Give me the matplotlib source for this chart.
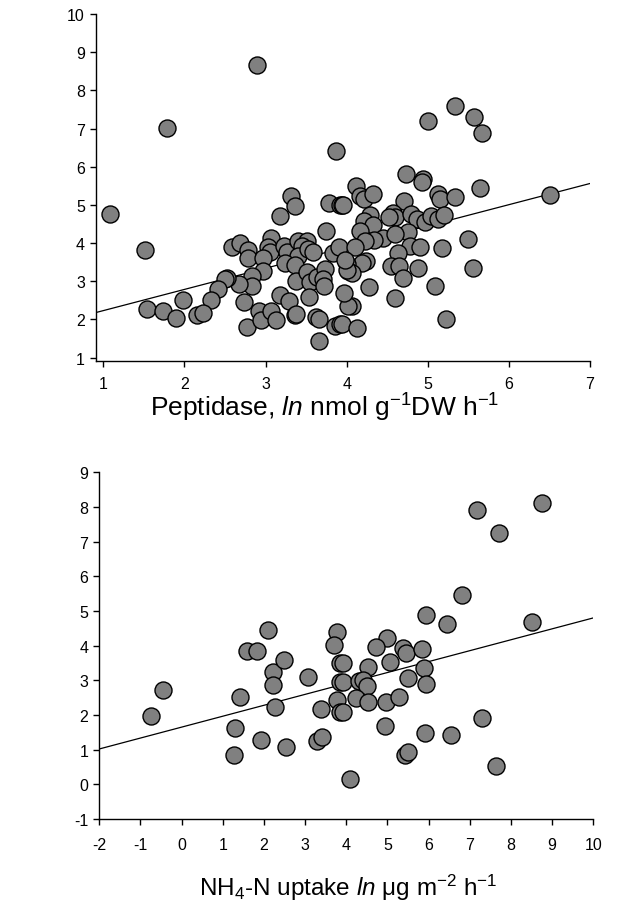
import matplotlib
matplotlib.use("Agg")
import matplotlib.pyplot as plt
import numpy as np

plt.rcParams['font.family'] = ['Liberation Sans', 'DejaVu Sans']
plt.rcParams['axes.unicode_minus'] = False
plt.rcParams['mathtext.fontset'] = 'custom'
plt.rcParams['mathtext.rm'] = 'Liberation Sans'
plt.rcParams['mathtext.it'] = 'Liberation Sans:italic'

# ---- Top panel: Peptidase ----
pep_x = [2.90, 1.785, 3.866, 1.086, 1.51, 3.32, 3.36, 3.175, 3.78, 3.92, 3.94,
         3.75, 2.59, 2.69, 3.07, 3.03, 3.06, 3.23, 3.26, 3.40, 3.51, 3.45, 3.40,
         3.52, 3.59, 3.83, 3.90, 2.79, 2.78, 2.97, 2.97, 3.24, 3.36, 2.83, 2.83,
         2.67, 2.52, 2.50, 2.42, 2.33, 1.98, 1.54, 1.74, 1.90, 2.16, 2.23, 2.74,
         2.77, 2.92, 2.95, 3.07, 3.13, 3.175, 3.29, 3.36, 3.38, 3.37, 3.51, 3.55,
         3.53, 3.63, 3.73, 3.71, 3.72, 3.62, 3.66, 3.66, 3.86, 3.92,
         5.33, 5.00, 5.575, 5.67, 4.73, 4.94, 4.93, 5.12, 5.15, 5.34, 5.65, 6.51,
         4.12, 4.16, 4.22, 4.33, 3.96, 4.71, 4.29, 4.21, 4.33, 4.57, 4.60, 4.52,
         4.79, 4.87, 4.97, 5.04, 5.13, 5.20, 4.17, 4.76, 4.45, 4.34, 4.23, 4.60,
         4.10, 4.78, 4.90, 5.17, 5.49, 4.63, 4.24, 4.19, 4.01, 4.02, 4.06, 4.55,
         4.64, 4.88, 4.69, 5.56, 4.27, 5.09, 4.07, 4.60, 3.94, 4.13, 5.22,
         4.00, 3.98, 4.02, 3.97]
pep_y = [8.66, 7.01, 6.42, 4.77, 3.82, 5.23, 4.96, 4.71, 5.05, 5.00, 5.00,
         4.32, 3.90, 4.00, 4.12, 3.89, 3.76, 3.92, 3.76, 4.06, 4.05, 3.93, 3.67,
         3.84, 3.77, 3.74, 3.89, 3.83, 3.60, 3.60, 3.27, 3.49, 3.43, 3.14, 2.88,
         2.93, 3.08, 3.05, 2.80, 2.51, 2.52, 2.26, 2.22, 2.03, 2.11, 2.16, 2.45,
         1.79, 2.23, 1.98, 2.23, 1.98, 2.63, 2.47, 2.11, 2.14, 3.01, 3.25, 2.99,
         2.59, 3.12, 3.32, 3.06, 2.88, 2.05, 2.01, 1.44, 1.83, 1.88,
         7.60, 7.19, 7.31, 6.87, 5.81, 5.68, 5.59, 5.28, 5.15, 5.21, 5.43, 5.27,
         5.50, 5.24, 5.15, 5.28, 5.00, 5.09, 4.73, 4.58, 4.47, 4.78, 4.67, 4.67,
         4.76, 4.63, 4.54, 4.70, 4.63, 4.74, 4.32, 4.28, 4.12, 4.08, 4.06, 4.24,
         3.89, 3.93, 3.89, 3.86, 4.10, 3.74, 3.54, 3.49, 3.45, 3.27, 3.21, 3.41,
         3.41, 3.35, 3.08, 3.35, 2.86, 2.88, 2.36, 2.55, 1.88, 1.77, 2.01,
         3.30, 3.55, 2.36, 2.70]
pep_intercept = 1.675
pep_slope = 0.555

# ---- Bottom panel: NH4-N uptake ----
nh4_x = [-0.75, -0.46, 1.30, 1.26, 1.42, 1.93, 1.58, 1.82, 2.11, 2.23, 2.49,
         2.21, 2.27, 2.53, 3.07, 3.30, 3.41, 3.39, 3.77, 3.71, 3.85, 3.85, 3.77,
         3.85, 7.17, 8.76, 7.72, 6.80, 5.94, 6.45, 8.50, 3.93, 3.91, 3.92, 5.00,
         4.72, 5.07, 5.38, 5.44, 5.85, 4.52, 5.89, 4.31, 4.41, 4.50, 5.51, 5.94,
         4.24, 4.52, 4.96, 5.29, 4.95, 5.91, 6.55, 7.29, 5.43, 5.51, 4.09, 7.64]
nh4_y = [1.96, 2.71, 1.62, 0.85, 2.52, 1.28, 3.85, 3.85, 4.46, 3.25, 3.58,
         2.86, 2.24, 1.07, 3.10, 1.26, 1.36, 2.16, 4.39, 4.01, 3.49, 2.94, 2.44,
         2.08, 7.92, 8.11, 7.24, 5.46, 4.88, 4.62, 4.68, 3.49, 2.94, 2.08, 4.23,
         3.96, 3.54, 3.93, 3.79, 3.89, 3.38, 3.35, 2.99, 3.02, 2.83, 3.06, 2.89,
         2.48, 2.38, 2.37, 2.51, 1.67, 1.48, 1.43, 1.90, 0.85, 0.92, 0.15, 0.53]
nh4_intercept = 1.65
nh4_slope = 0.315

fig = plt.figure(figsize=(6.31, 9.04), dpi=100)

marker_kw = dict(s=150, facecolor='#808080', edgecolor='black', linewidths=1.0, zorder=3)

def style(ax, xpad):
    for s in ['top', 'right']:
        ax.spines[s].set_visible(False)
    for s in ['left', 'bottom']:
        ax.spines[s].set_linewidth(1.0)
    ax.tick_params(direction='out', length=4, width=1, labelsize=11.5, pad=4)
    ax.tick_params(axis='x', pad=xpad)

ax1 = fig.add_axes([96/631, 1-362/904, (590-96)/631, (362-15)/904])
ax1.set_xlim(0.91, 7)
ax1.set_ylim(0.91, 10)
xl = np.array(ax1.get_xlim())
ax1.plot(xl, pep_intercept + pep_slope*xl, color='black', lw=0.9, zorder=2)
ax1.scatter(pep_x, pep_y, **marker_kw)
ax1.set_xticks(range(1, 8))
ax1.set_yticks(range(1, 11))
style(ax1, 6.5)
ax1.set_xlabel(r'Peptidase, $\mathit{ln}$ nmol g$^{\mathregular{-1}}$DW h$^{\mathregular{-1}}$',
               fontsize=19)
ax1.xaxis.label.set_va('top')
ax1.xaxis.set_label_coords((325-96)/494, -(392-362)/347)

ax2 = fig.add_axes([99.3/631, 1-820/904, (593.3-99.3)/631, (820-473.3)/904])
ax2.set_xlim(-2, 10)
ax2.set_ylim(-1, 9)
xl = np.array(ax2.get_xlim())
ax2.plot(xl, nh4_intercept + nh4_slope*xl, color='black', lw=0.9, zorder=2)
ax2.scatter(nh4_x, nh4_y, **marker_kw)
ax2.set_xticks(range(-2, 11))
ax2.set_yticks(range(-1, 10))
style(ax2, 9)
ax2.set_xlabel(r'NH$_{\mathregular{4}}$-N uptake $\mathit{ln}$ $\mathregular{\mu}$g m$^{\mathregular{-2}}$ h$^{\mathregular{-1}}$',
               fontsize=17.5)
ax2.xaxis.label.set_va('top')
ax2.xaxis.set_label_coords((348-99.3)/494, -(873-820)/346.7)

fig.savefig('out.png', dpi=100)
